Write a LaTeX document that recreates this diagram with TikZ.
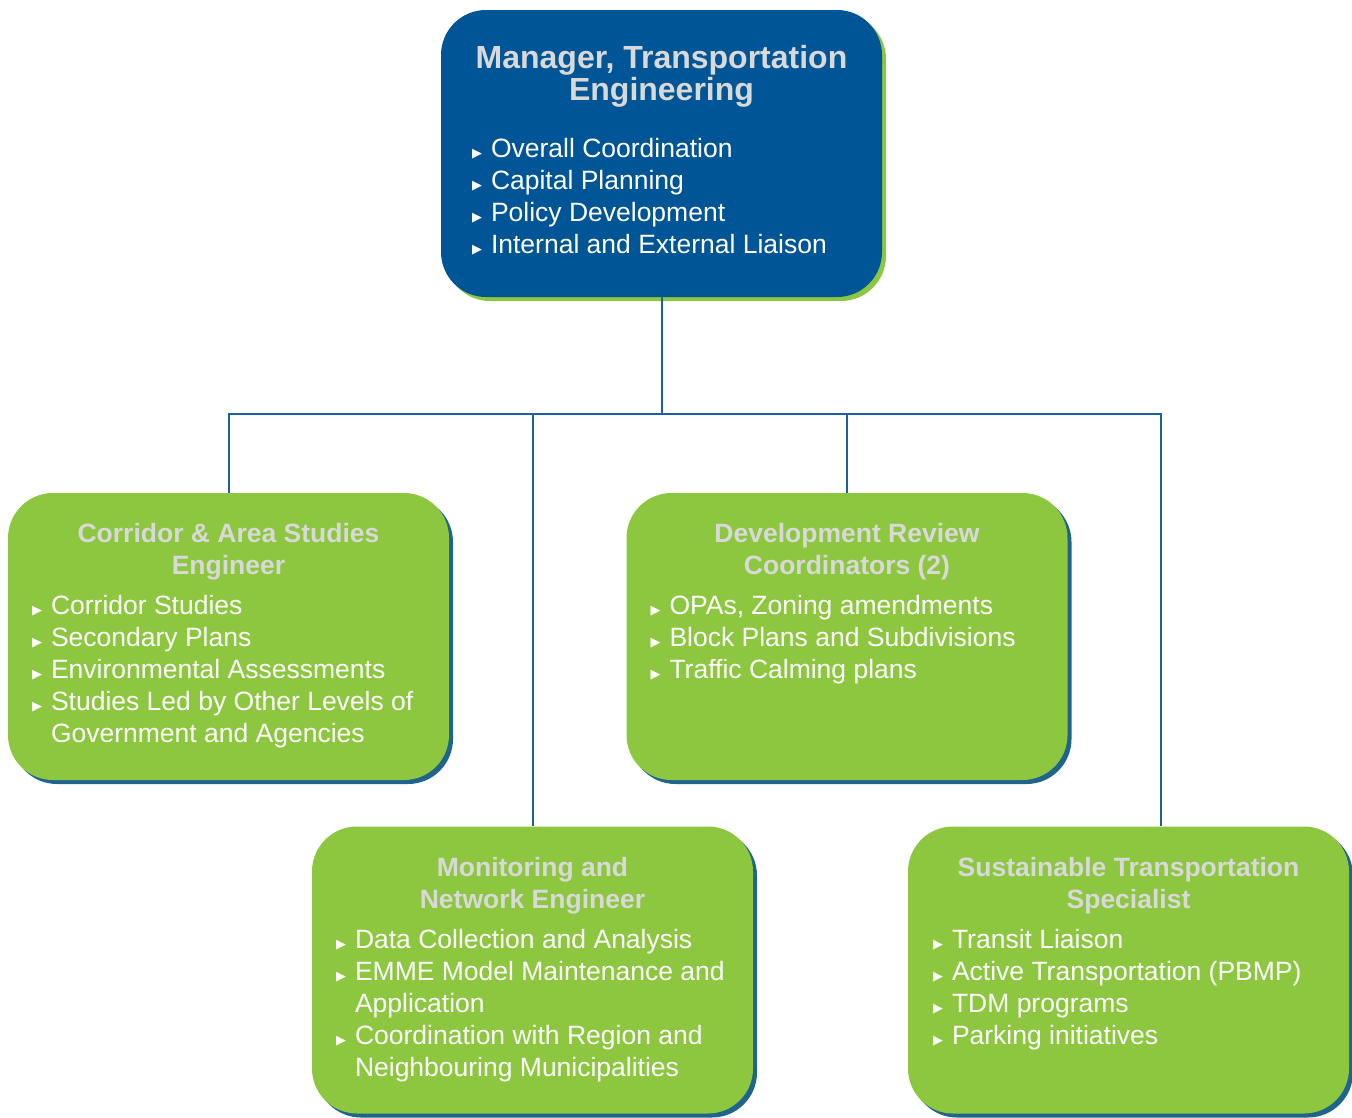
\documentclass[tikz,border=0pt]{standalone}
\usepackage{fontspec}
\setmainfont{Liberation Sans}
\newfontfamily\bulletfont{DejaVu Sans}
\usetikzlibrary{shadows}

\definecolor{mgrblue}{RGB}{0,85,150}
\definecolor{boxgreen}{RGB}{141,198,63}
\definecolor{shadeblue}{RGB}{30,100,140}
\definecolor{titlegray}{RGB}{217,217,217}
\definecolor{linkblue}{RGB}{30,95,160}

\newcommand{\bul}{\makebox[19pt][l]{\bulletfont\fontsize{13}{13}\selectfont ▶}}
\newcommand{\cont}{\hspace*{19pt}}

\begin{document}
\begin{tikzpicture}[x=1pt, y=-1pt]
    \tikzstyle{unit} = [rectangle, inner sep=0pt, minimum width=441pt, minimum height=287pt, rounded corners=45pt]
    \tikzstyle{mgrbox} = [unit, fill=mgrblue, drop shadow={shadow xshift=4pt, shadow yshift=-4pt, fill=boxgreen, opacity=1}]
    \tikzstyle{teambox} = [unit, fill=boxgreen, drop shadow={shadow xshift=4pt, shadow yshift=-4pt, fill=shadeblue, opacity=1}]
    \tikzstyle{toptitle} = [inner sep=0pt, align=center, text=titlegray, font={\fontsize{32}{32}\selectfont\bfseries}]
    \tikzstyle{title} = [inner sep=0pt, align=center, text=titlegray, font={\fontsize{26.5}{32}\selectfont\bfseries}]
    \tikzstyle{duties} = [inner sep=0pt, align=left, text=white, font={\fontsize{26.5}{32}\selectfont}]
    \tikzstyle{link} = [draw=linkblue, line width=2pt]

    \useasboundingbox (0,0) rectangle (1352,1117);

    \node (manager) [mgrbox] at (661.5,153.5) {};
    \node (corridor) [teambox] at (228.5,636.5) {};
    \node (devReview) [teambox] at (847,636.5) {};
    \node (monitoring) [teambox] at (532.5,970) {};
    \node (sustain) [teambox] at (1128.5,970) {};

    % texts (base = baseline of the last line)
    \node (managerTitle) [toptitle, anchor=base] at ([yshift=-91pt]manager.north) {Manager, Transportation\\Engineering};
    \node (managerList) [duties, anchor=base west] at ([xshift=31pt, yshift=-244pt]manager.north west)
        {\bul Overall Coordination\\ \bul Capital Planning\\ \bul Policy Development\\ \bul Internal and External Liaison};

    \node (corridorTitle) [title, anchor=base] at ([yshift=-82pt]corridor.north) {Corridor \& Area Studies\\Engineer};
    \node (corridorList) [duties, anchor=base west] at ([xshift=24pt, yshift=-250pt]corridor.north west)
        {\bul Corridor Studies\\ \bul Secondary Plans\\ \bul Environmental Assessments\\ \bul Studies Led by Other Levels of\\ \cont Government and Agencies};

    \node (devTitle) [title, anchor=base] at ([yshift=-82pt]devReview.north) {Development Review\\Coordinators (2)};
    \node (devList) [duties, anchor=base west] at ([xshift=24pt, yshift=-186pt]devReview.north west)
        {\bul OPAs, Zoning amendments\\ \bul Block Plans and Subdivisions\\ \bul Traffic Calming plans};

    \node (monitoringTitle) [title, anchor=base] at ([yshift=-82pt]monitoring.north) {Monitoring and\\Network Engineer};
    \node (monitoringList) [duties, anchor=base west] at ([xshift=24pt, yshift=-250pt]monitoring.north west)
        {\bul Data Collection and Analysis\\ \bul EMME Model Maintenance and\\ \cont Application\\ \bul Coordination with Region and\\ \cont Neighbouring Municipalities};

    \node (sustainTitle) [title, anchor=base] at ([yshift=-82pt]sustain.north) {Sustainable Transportation\\Specialist};
    \node (sustainList) [duties, anchor=base west] at ([xshift=25pt, yshift=-218pt]sustain.north west)
        {\bul Transit Liaison\\ \bul Active Transportation (PBMP)\\ \bul TDM programs\\ \bul Parking initiatives};

    % connectors
    \coordinate (bus) at (661.5,414);
    \coordinate (sustainDrop) at ([xshift=32.5pt]sustain.north);
    \draw [link] (manager.south) -- (bus);
    \draw [link] (corridor.north) |- (bus) -| (sustainDrop);
    \draw [link] (monitoring.north) -- (monitoring.north |- bus);
    \draw [link] (devReview.north) -- (devReview.north |- bus);

\end{tikzpicture}
\end{document}
